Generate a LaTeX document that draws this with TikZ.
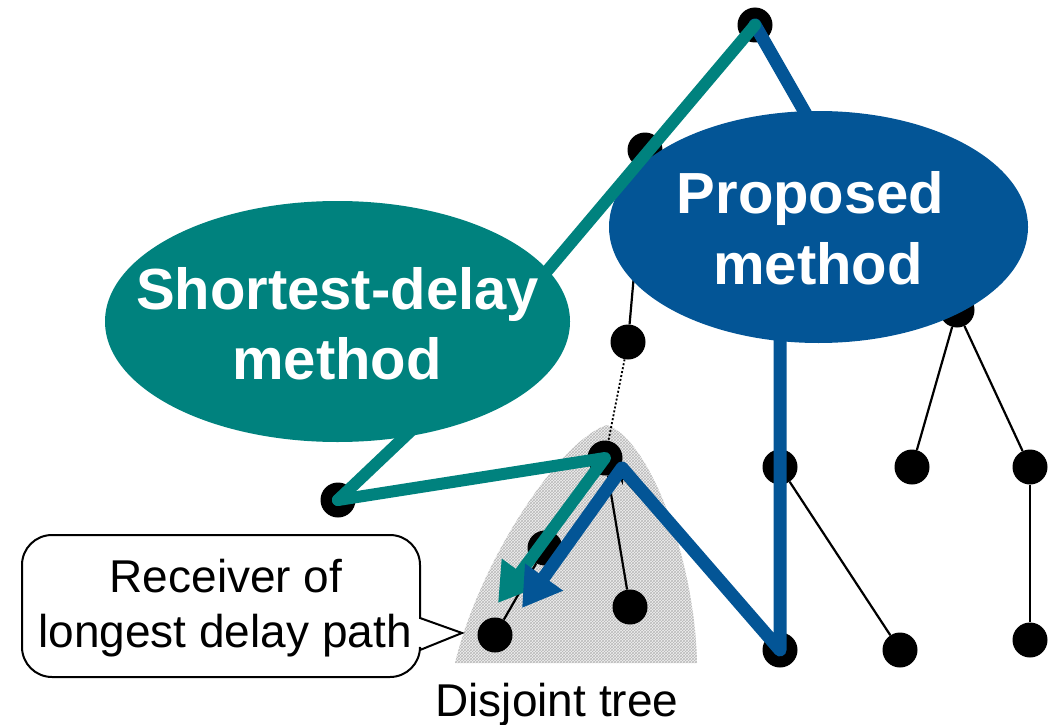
\documentclass[tikz,border=0pt]{standalone}
\usepackage{fontspec}
\setmainfont{Liberation Sans}
\usetikzlibrary{arrows.meta,shapes.geometric,patterns}
\definecolor{tealc}{RGB}{0,130,126}
\definecolor{bluec}{RGB}{3,85,150}
\begin{document}
\begin{tikzpicture}[x=1pt,y=-1pt,
 vert/.style={circle,fill=black,minimum size=35pt,inner sep=0pt},
 tedge/.style={line width=2.2pt},
 dedge/.style={line width=2.2pt,{Stealth[length=14pt,width=10pt]}-{Stealth[length=14pt,width=10pt]}},
 tealpath/.style={draw=tealc,line width=12pt,line cap=round,line join=round},
 bluepath/.style={draw=bluec,line width=13pt,line cap=round,line join=round},
 bigtip/.style={-{Triangle[length=38pt,width=44pt]}},
 lbl/.style={font=\fontsize{46}{53}\selectfont,inner sep=0pt,anchor=base},
 big/.style={font=\bfseries\fontsize{58}{68}\selectfont,text=white,inner sep=0pt,anchor=base}]
\useasboundingbox (0,0) rectangle (1055,725);
% disjoint tree area
\fill[gray!12] (607,425) .. controls (560,440) and (480,560) .. (455,663) -- (697,663) .. controls (695,560) and (650,440) .. cycle;
\fill[pattern=crosshatch,pattern color=gray!55] (607,425) .. controls (560,440) and (480,560) .. (455,663) -- (697,663) .. controls (695,560) and (650,440) .. cycle;
% vertices
\node[vert] (r) at (755,25) {};
\node[vert] (a) at (645,150) {};
\node[vert] (b) at (628,342) {};
\node[vert] (c) at (605,458) {};
\node[vert] (d) at (545,548) {};
\node[vert] (e) at (495,635) {};
\node[vert] (f) at (630,607) {};
\node[vert] (g) at (338,500) {};
\node[vert] (h) at (780,467) {};
\node[vert] (i) at (780,650) {};
\node[vert] (j) at (900,650) {};
\node[vert] (k) at (957,310) {};
\node[vert] (l) at (912,467) {};
\node[vert] (m) at (1030,467) {};
\node[vert] (n) at (1030,640) {};
% tree edges
\draw[tedge] (r) -- (a);
\draw[tedge] (a) -- (b);
\draw[line width=1.8pt,dash pattern=on 2pt off 2pt] (b) -- (c);
\draw[tedge] (c) -- (d);
\draw[tedge] (d) -- (e);
\draw[tedge] (c) -- (f);
\draw[dedge] (g) -- (c);
\draw[dedge] (c) -- (i);
\draw[tedge] (h) -- (j);
\draw[tedge] (k) -- (l);
\draw[tedge] (k) -- (m);
\draw[tedge] (m) -- (n);
% paths
\coordinate (ttip) at (498,603);
\coordinate (tbend) at (417,425);
\coordinate (bb1) at (835,165);
\coordinate (bb2) at (780,300);
\coordinate (bapex) at (622,468);
\coordinate (btip) at (522,608);
\draw[tealpath,bigtip] (g.center) -- (c.center) -- (ttip);
\draw[bluepath,bigtip] (r.center) -- (bb1) -- (bb2) -- (h.center) -- (i.center) -- (bapex) -- (btip);
% proposed ellipse
\node[ellipse,fill=bluec,minimum width=419pt,minimum height=232pt,inner sep=0pt] (pm) at (818.5,227) {};
\draw[tealpath] (r.center) -- (tbend) -- (g.center);
\node[ellipse,fill=tealc,minimum width=465pt,minimum height=241pt,inner sep=0pt] (sd) at (337.5,321.5) {};
\node[big] (pm1) at (810.5,213) {Proposed};
\node[big] (pm2) at (818,284) {method};
\node[big] (sd1) at (337.5,309) {Shortest-delay};
\node[big] (sd2) at (337,379) {method};
% callout
\draw[line width=2pt,fill=white] (420,618) [rounded corners=30pt] -- (420,535) -- (22,535) -- (22,677) -- (420,677) [sharp corners] -- (420,650) -- (462,633) -- cycle;
\node[lbl] (rc1) at (226,592) {Receiver of};
\node[lbl] (rc2) at (225,647) {longest delay path};
\node[lbl] (dt) at (557,716) {Disjoint tree};
\end{tikzpicture}
\end{document}
